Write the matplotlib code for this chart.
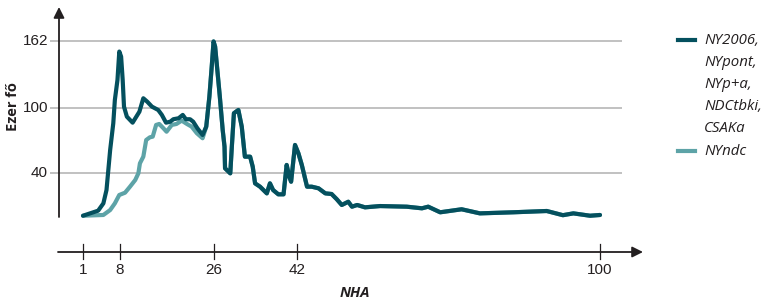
import matplotlib
matplotlib.use("Agg")
import matplotlib.pyplot as plt
from matplotlib.lines import Line2D

# ---------------- data ----------------
nha_dark = [1, 3.9, 4.9, 5.5, 6.2, 6.8, 7.1, 7.6, 7.95, 8.3, 8.6, 8.85, 9.4, 10.5,
            11.8, 12.55, 13.3, 14.2, 15.4, 16.1, 16.9, 17.7, 18.3, 19.3, 20.1, 20.7,
            21.5, 22.1, 22.9, 23.9, 24.6, 25.2, 25.65, 26.0, 26.3, 26.6, 27.2, 27.75,
            28.1, 28.2, 29.2, 29.5, 29.9, 30.75, 31.4, 32, 33, 33.5, 33.95, 34.9, 36.2,
            36.8, 37.4, 38.4, 39.4, 40, 40.5, 40.85, 41.6, 42.25, 42.9, 43.9, 44.8,
            46.1, 47.4, 48.6, 49.6, 50.55, 51.8, 52.5, 53.5, 55, 57.9, 63, 65.9, 67.1,
            69.4, 73.5, 77, 83.4, 89.8, 92.9, 94.9, 98.1, 100]
val_dark = [0, 4.7, 11.5, 23.9, 61.1, 86, 107.6, 126.2, 152.6, 147.9, 126.2, 101.4,
            92.1, 86.5, 96.7, 109.2, 106, 101.4, 98.3, 93.7, 86.5, 87.4, 89.7, 90.6,
            93.7, 89.7, 89.7, 87.4, 81.3, 75.1, 82.8, 110.7, 138.6, 162, 157.2, 141.8,
            110.7, 79.7, 64.2, 44.1, 39.4, 64.2, 95.3, 98.3, 82.8, 54.9, 54.9, 45.6,
            30.1, 27, 20.8, 30.1, 23.9, 19.9, 19.9, 47.2, 36.3, 31.6, 65.8, 58, 47.2,
            27, 27, 25.5, 20.8, 20.2, 15.3, 10, 13, 8.4, 10, 7.8, 9, 8.4, 6.9, 8.4,
            3.2, 6, 2.2, 3.2, 4.4, 0.5, 2.2, 0, 0.7]

# NYndc: own values up to NHA ~24, then identical to the dark series
nha_light_own = [1, 4.9, 6.2, 7.1, 7.95, 9.05, 10, 11, 11.6, 11.9, 12.55, 13.1, 13.8,
                 14.35, 15, 15.6, 16.4, 17, 18, 18.9, 19.9, 20.9, 21.8, 22.8, 23.9]
val_light_own = [0, 0.7, 5.3, 11.5, 19.3, 21.4, 27, 33.2, 39.4, 48.7, 54.9, 70.4, 72.9,
                 73.5, 84.4, 85.3, 81.3, 78.1, 84.4, 85.3, 88.4, 85.3, 82.8, 76.7, 72]
join_idx = nha_dark.index(24.6)
nha_light = nha_light_own + nha_dark[join_idx:]
val_light = val_light_own + val_dark[join_idx:]

xticks = [1, 8, 26, 42, 100]
yticks = [162, 100, 40]

labels_dark = ["NY2006,", "NYpont,", "NYp+a,", "NDCtbki,", "CSAKa"]
label_light = "NYndc"

# ---------------- style ----------------
DARK = "#04505e"
LIGHT = "#5da3a7"
INK = "#231f20"
GRID = "#b0b0b0"
W, H = 769, 305

txt_font = ["Open Sans", "DejaVu Sans"]
num_font = ["Liberation Sans Narrow", "Liberation Sans", "DejaVu Sans"]

fig = plt.figure(figsize=(W / 100, H / 100), dpi=100)
fig.patch.set_facecolor("white")

# axes occupies pixel x 50..622, y 7..258
ax = fig.add_axes([50 / W, 1 - 258 / H, (622 - 50) / W, (258 - 7) / H])
px_per_x = (600 - 83) / 99.0
px_per_y = (172.7 - 39.3) / 124.0
y0_px = 172.7 + 40 * px_per_y


def xv(px):
    return 1 + (px - 83) / px_per_x


def yv(py):
    return (y0_px - py) / px_per_y


ax.set_xlim(xv(50), xv(622))
ax.set_ylim(yv(258), yv(7))
ax.axis("off")

# gridlines
for yt in yticks:
    ax.plot([xv(50), xv(622)], [yt, yt], color=GRID, lw=1.1, zorder=1)
    ax.text(xv(48), yt, str(yt), ha="right", va="center", fontsize=11,
            family=num_font, color=INK)

# data lines
ax.plot(nha_light, val_light, color=LIGHT, lw=3.0, solid_joinstyle="round",
        solid_capstyle="round", zorder=3)
ax.plot(nha_dark, val_dark, color=DARK, lw=3.0, solid_joinstyle="round",
        solid_capstyle="round", zorder=4)

# y axis arrow
ax.annotate("", xy=(xv(59), yv(7)), xytext=(xv(59), yv(217)),
            arrowprops=dict(arrowstyle="-|>", color=INK, lw=1.3, mutation_scale=16,
                            shrinkA=0, shrinkB=0),
            annotation_clip=False, zorder=5)

# x axis arrow
ya = yv(252)
ax.annotate("", xy=(xv(643), ya), xytext=(xv(58), ya),
            arrowprops=dict(arrowstyle="-|>", color=INK, lw=1.3, mutation_scale=16,
                            shrinkA=0, shrinkB=0),
            annotation_clip=False, zorder=5)
for xt in xticks:
    ax.plot([xt, xt], [yv(244), yv(259)], color=INK, lw=0.9, clip_on=False, zorder=5)
    ax.text(xt, yv(270), str(xt), ha="center", va="center", fontsize=11,
            family=num_font, color=INK)

ax.text(xv(355), yv(293), "NHA", ha="center", va="center", fontsize=10.5,
        fontweight="bold", fontstyle="italic", family=txt_font, color=INK)

fig.text(13 / W, 1 - 107 / H, "Ezer fő", rotation=90, ha="center", va="center",
         fontsize=10.5, fontweight="bold", family=txt_font, color=INK)

# legend
fig.add_artist(Line2D([678 / W, 695 / W], [1 - 40 / H, 1 - 40 / H], color=DARK, lw=3))
for i, lab in enumerate(labels_dark):
    fig.text(704 / W, 1 - (40 + 22 * i) / H, lab, ha="left", va="center",
             fontsize=10.8, fontstyle="italic", family=txt_font, color=INK)
fig.add_artist(Line2D([678 / W, 695 / W], [1 - 151 / H, 1 - 151 / H], color=LIGHT, lw=3))
fig.text(704 / W, 1 - 151 / H, label_light, ha="left", va="center",
         fontsize=10.8, fontstyle="italic", family=txt_font, color=INK)

fig.savefig("out.png", dpi=100, facecolor="white")
